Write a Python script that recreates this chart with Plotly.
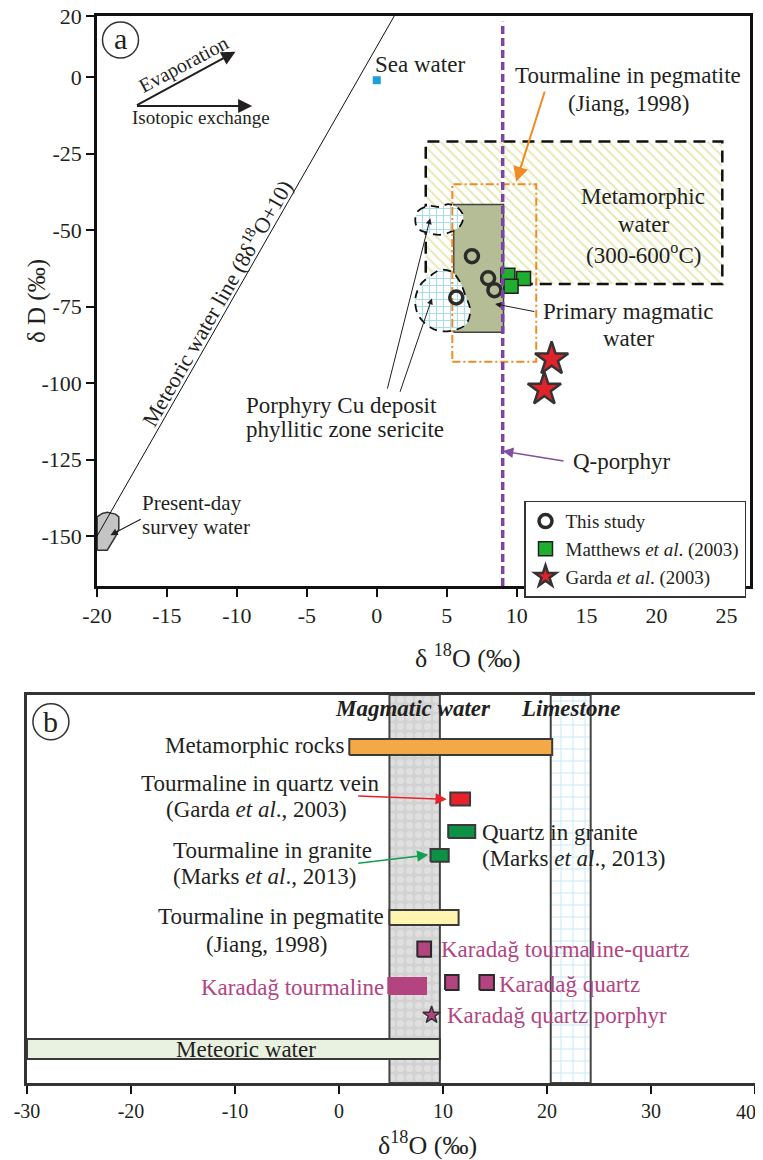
import plotly.graph_objects as go

FONT = "Liberation Serif, Times New Roman, serif"
INK = "#231f20"
# the page body adds an 8px margin; the figure is sized so the whole page is 763x1160
OX, OY = 8, 8
W, H = 755, 1152


def PX(px):
    return (px - OX) / W


def PY(py):
    return 1 - (py - OY) / H


# ---------------- Panel (a) data: d18O (permil) vs dD (permil) ----------------
this_study_d18o = [6.8, 7.96, 8.41, 5.68]
this_study_dD = [-58.5, -65.7, -69.6, -72.0]
matthews_d18o = [9.37, 10.49, 9.6]
matthews_dD = [-64.7, -65.8, -68.3]
garda_d18o = [12.5, 11.98]
garda_dD = [-92.1, -102.0]
sea_water_d18o = [0.0]
sea_water_dD = [-1.0]
mwl_d18o = [-20.5, 1.25]          # meteoric water line dD = 8 d18O + 10
mwl_dD = [-154.0, 20.0]
meta_d18o = [3.5, 24.7]           # metamorphic water field
meta_dD = [-67.6, -21.0]
peg_d18o = [5.4, 11.4]            # tourmaline in pegmatite (Jiang, 1998)
peg_dD = [-93.0, -35.0]
pmw_d18o = [5.5, 9.06]            # primary magmatic water
pmw_dD = [-83.4, -41.6]
qporphyr_d18o = 9.0
porph_up_d18o = [2.75, 2.96, 3.68, 4.54, 5.11, 5.82, 6.18, 5.96, 5.25, 4.54, 3.68, 2.96, 2.75]
porph_up_dD = [-46.7, -43.7, -42.1, -42.4, -41.5, -42.8, -45.4, -48.6, -50.6, -51.5, -50.9, -49.6, -46.7]
porph_lo_d18o = [2.75, 3.11, 3.82, 4.54, 5.39, 5.96, 6.32, 6.68, 6.39, 5.61, 4.54, 3.68, 2.96, 2.75]
porph_lo_dD = [-72.8, -67.9, -65.0, -63.0, -63.7, -67.0, -71.2, -76.1, -80.7, -82.6, -83.0, -81.3, -77.7, -72.8]
survey_d18o = [-19.99, -19.63, -19.27, -18.68, -18.44, -18.44, -18.68, -19.27, -19.99, -19.99]
survey_dD = [-143.7, -142.6, -142.2, -142.8, -143.7, -147.8, -150.2, -154.6, -154.6, -143.7]

a_xticks = [-20, -15, -10, -5, 0, 5, 10, 15, 20, 25]
a_yticks = [20, 0, -25, -50, -75, -100, -125, -150]

# ---------------- Panel (b) data: d18O ranges ----------------
b_names = ["Metamorphic rocks", "Tourmaline in quartz vein", "Quartz in granite",
           "Tourmaline in granite", "Tourmaline in pegmatite", "Karadağ tourmaline-quartz",
           "Karadağ tourmaline", "Karadağ quartz", "Karadağ quartz", "Meteoric water"]
b_start = [0.99, 10.7, 10.5, 8.8, 4.85, 7.53, 4.74, 10.2, 13.5, -30.0]
b_end = [20.5, 12.6, 13.1, 10.55, 11.5, 8.85, 8.37, 11.5, 14.9, 9.7]
b_row = [86.6, 73.2, 64.8, 58.65, 42.65, 34.5, 25.0, 25.9, 25.9, 8.75]
b_thick = [4.1, 3.4, 3.35, 3.3, 3.9, 3.9, 4.1, 3.9, 3.9, 5.15]
b_fill = ["#f4a947", "#e8222a", "#0c9145", "#0c9145", "#fff5b0", "#b3447f",
          "#b3447f", "#b3447f", "#b3447f", "#e9f1e0"]
b_edge = ["#3a3a3a", "#3a3a3a", "#3a3a3a", "#3a3a3a", "#3a3a3a", "#2a2a2a",
          "#b3447f", "#2a2a2a", "#2a2a2a", "#3a3a3a"]
porphyr_star_d18o = [8.9]
porphyr_star_row = [17.5]
magmatic_band = [4.85, 9.7]
limestone_band = [20.36, 24.2]
b_xticks = [-30, -20, -10, 0, 10, 20, 30, 40]


def rect(xs, ys):
    return [xs[0], xs[1], xs[1], xs[0], xs[0]], [ys[0], ys[0], ys[1], ys[1], ys[0]]


fig = go.Figure()

# ---- panel a layers ----
mx, my = rect(meta_d18o, meta_dD)
fig.add_trace(go.Scatter(x=mx, y=my, mode="lines", fill="toself", showlegend=False,
                         line=dict(color="#111", width=2.5, dash="12px,7px"),
                         fillpattern=dict(shape="\\", fgcolor="#c9cd5a", bgcolor="white",
                                          size=7, solidity=0.25),
                         hoverinfo="skip"))
px_, py_ = rect(pmw_d18o, pmw_dD)
fig.add_trace(go.Scatter(x=px_, y=py_, mode="lines", fill="toself", fillcolor="#b4bd95",
                         line=dict(color="#444", width=1.5), showlegend=False, hoverinfo="skip"))
for bx, by in [(porph_up_d18o, porph_up_dD), (porph_lo_d18o, porph_lo_dD)]:
    fig.add_trace(go.Scatter(x=bx, y=by, mode="lines", fill="toself", showlegend=False,
                             line=dict(color="#111", width=1.8, dash="8px,6px", shape="spline"),
                             fillpattern=dict(shape="+", fgcolor="#55bcd4", bgcolor="white",
                                              size=7, solidity=0.3),
                             hoverinfo="skip"))
gx, gy = rect(peg_d18o, peg_dD)
fig.add_trace(go.Scatter(x=gx, y=gy, mode="lines", showlegend=False,
                         line=dict(color="#f08a24", width=2, dash="8px,3px,2px,3px"),
                         hoverinfo="skip"))
fig.add_trace(go.Scatter(x=survey_d18o, y=survey_dD, mode="lines", fill="toself",
                         fillcolor="#c4c4c4", line=dict(color="#333", width=1.5),
                         showlegend=False, hoverinfo="skip"))
fig.add_trace(go.Scatter(x=mwl_d18o, y=mwl_dD, mode="lines", showlegend=False,
                         line=dict(color="#111", width=1), hoverinfo="skip"))
fig.add_shape(type="line", xref="x", yref="y domain", x0=qporphyr_d18o, x1=qporphyr_d18o,
              y0=0, y1=0.99, line=dict(color="#7d44a8", width=3.5, dash="8px,4px"))
fig.add_trace(go.Scatter(x=sea_water_d18o, y=sea_water_dD, mode="markers", showlegend=False,
                         marker=dict(symbol="square", size=8, color="#1e9ee0"), hoverinfo="skip"))

fig.add_trace(go.Scatter(x=this_study_d18o, y=this_study_dD, mode="markers", name="This study",
                         marker=dict(symbol="circle-open", size=13, color="#2b2b2b",
                                     line=dict(width=3.5, color="#2b2b2b"))))
fig.add_trace(go.Scatter(x=matthews_d18o, y=matthews_dD, mode="markers",
                         name="Matthews <i>et al</i>. (2003)",
                         marker=dict(symbol="square", size=14, color="#1fae30",
                                     line=dict(width=1.5, color="#222"))))
fig.add_trace(go.Scatter(x=garda_d18o, y=garda_dD, mode="markers",
                         name="Garda <i>et al</i>. (2003)",
                         marker=dict(symbol="star", size=25, color="#e2222a",
                                     line=dict(width=2.5, color="#333"))))

# ---- panel b layers ----
bx, by = rect(magmatic_band, [0, 100])
fig.add_trace(go.Scatter(x=bx, y=by, xaxis="x2", yaxis="y2", mode="lines", fill="toself",
                         line=dict(color="#444", width=2),
                         fillpattern=dict(shape=".", fgcolor="#ececec", bgcolor="#d2d2d2",
                                          size=9, solidity=0.5),
                         showlegend=False, hoverinfo="skip"))
lx, ly = rect(limestone_band, [0, 100])
fig.add_trace(go.Scatter(x=lx, y=ly, xaxis="x2", yaxis="y2", mode="lines", fill="toself",
                         line=dict(color="#444", width=2),
                         fillpattern=dict(shape="+", fgcolor="#8fd0f0", bgcolor="white",
                                          size=12, solidity=0.15),
                         showlegend=False, hoverinfo="skip"))
for name, s, e, r, t, fc, ec in zip(b_names, b_start, b_end, b_row, b_thick, b_fill, b_edge):
    rx, ry = rect([s, e], [r - t / 2, r + t / 2])
    fig.add_trace(go.Scatter(x=rx, y=ry, xaxis="x2", yaxis="y2", mode="lines", fill="toself",
                             fillcolor=fc, line=dict(color=ec, width=2), name=name,
                             showlegend=False, hoverinfo="name"))
fig.add_trace(go.Scatter(x=porphyr_star_d18o, y=porphyr_star_row, xaxis="x2", yaxis="y2",
                         mode="markers", showlegend=False,
                         marker=dict(symbol="star", size=13, color="#b3447f",
                                     line=dict(width=1.5, color="#333"))))

# ---------------- annotations ----------------
ann = []


def lab(text, x, y, ref="", size=23, xanchor="center", color=INK, angle=0):
    ann.append(dict(text=text, x=x, y=y, xref="x" + ref, yref="y" + ref, showarrow=False,
                    xanchor=xanchor, yanchor="middle", textangle=angle,
                    font=dict(family=FONT, size=size, color=color)))


def arrow(x, y, ax, ay, ref="", color=INK, width=1, size=1.2, head=2):
    ann.append(dict(text="", x=x, y=y, ax=ax, ay=ay, xref="x" + ref, yref="y" + ref,
                    axref="x" + ref, ayref="y" + ref, showarrow=True, arrowhead=head,
                    arrowsize=size, arrowwidth=width, arrowcolor=color))


def paper_lab(text, px, py, size=26, angle=0, xanchor="center"):
    ann.append(dict(text=text, x=PX(px), y=PY(py), xref="paper", yref="paper",
                    showarrow=False, textangle=angle, xanchor=xanchor, yanchor="middle",
                    font=dict(family=FONT, size=size, color=INK)))


# panel a labels
lab("a", -18.32, 12.6, size=30)
lab("Evaporation", -13.8, 4.0, size=20, angle=-28)
lab("Isotopic exchange", -12.6, -13.1, size=19)
arrow(-10.1, 8.33, -17.25, -9.42, width=2, size=1.4)
arrow(-8.91, -9.42, -17.25, -9.42, width=2, size=1.4)
lab("Sea water", -0.25, 4.3, xanchor="left")
lab("Tourmaline in pegmatite", 17.96, 0.39)
lab("(Jiang, 1998)", 17.96, -8.54)
arrow(9.96, -34.2, 12.04, -4.19, color="#f08a24", width=2, size=1.5)
lab("Metamorphic", 19.04, -39.07)
lab("water", 19.04, -48.3)
lab("(300-600<sup>o</sup>C)", 19.04, -57.6)
lab("Primary magmatic", 17.96, -76.7)
lab("water", 17.96, -85.4)
arrow(8.46, -74.1, 11.37, -76.7, width=1, size=1.2)
lab("Porphyry Cu deposit", -9.46, -107.2, xanchor="left")
lab("phyllitic zone sericite", -9.46, -115.3, xanchor="left")
arrow(3.82, -46.1, 0.73, -102.3, width=1, size=1.2)
arrow(3.94, -72.3, 1.63, -103.3, width=1, size=1.2)
lab("Present-day", -16.9, -139.3, size=21, xanchor="left")
lab("survey water", -16.9, -146.9, size=21, xanchor="left")
arrow(-19.04, -149.7, -16.77, -144.2, width=1.2, size=1.2)
lab("Q-porphyr", 13.87, -125.7, xanchor="left")
arrow(9.01, -122.2, 13.46, -125.5, color="#8050a0", width=1.5, size=1.4)
lab("Meteoric water line (8δ<sup>18</sup>O+10)", -11.54, -73.7, size=22, angle=-60.2)

# panel b labels
MAG = "#b3447f"
lab("b", -27.7, 93.1, ref="2", size=30)
lab("<b><i>Magmatic water</i></b>", 7.1, 96.4, ref="2")
lab("<b><i>Limestone</i></b>", 22.3, 96.4, ref="2")
lab("Metamorphic rocks", 0.8, 86.9, ref="2", xanchor="right")
lab("Tourmaline in quartz vein", -7.64, 77.2, ref="2")
lab("(Garda <i>et al</i>., 2003)", -7.9, 70.4, ref="2")
arrow(10.36, 73.1, 1.7, 74.0, ref="2", color="#e8222a", width=1.5, size=1.5)
lab("Tourmaline in granite", -6.4, 60.05, ref="2")
lab("(Marks <i>et al</i>., 2013)", -7.2, 53.2, ref="2")
arrow(8.59, 58.8, 1.7, 56.6, ref="2", color="#10a050", width=1.5, size=1.5)
lab("Quartz in granite", 13.56, 64.6, ref="2", xanchor="left")
lab("(Marks <i>et al</i>., 2013)", 13.56, 57.9, ref="2", xanchor="left")
lab("Tourmaline in pegmatite", 4.49, 42.9, ref="2", xanchor="right")
lab("(Jiang, 1998)", -7.0, 35.7, ref="2")
lab("Karadağ tourmaline-quartz", 9.57, 34.3, ref="2", xanchor="left", color=MAG)
lab("Karadağ tourmaline", 4.49, 24.7, ref="2", xanchor="right", color=MAG)
lab("Karadağ quartz", 15.2, 25.5, ref="2", xanchor="left", color=MAG)
lab("Karadağ quartz porphyr", 10.2, 17.5, ref="2", xanchor="left", color=MAG)
lab("Meteoric water", -8.9, 8.76, ref="2")

# axis titles
paper_lab("δ D (‰)", 37, 301, size=25, angle=-90)
paper_lab("δ <sup>18</sup>O (‰)", 468, 656)
paper_lab("δ<sup>18</sup>O (‰)", 428, 1143)
# last tick label of panel (b), right-aligned so it stays inside the page
paper_lab(str(b_xticks[-1]), 758, 1112, size=20, xanchor="right")

fig.add_shape(type="circle", xref="x", yref="y", xsizemode="pixel", ysizemode="pixel",
              xanchor=-18.32, yanchor=12.15, x0=-18, x1=18, y0=-18, y1=18,
              line=dict(color="#333", width=1.5))
fig.add_shape(type="circle", xref="x2", yref="y2", xsizemode="pixel", ysizemode="pixel",
              xanchor=-27.7, yanchor=93.1, x0=-18, x1=18, y0=-18, y1=18,
              line=dict(color="#333", width=1.5))

axis_common = dict(showgrid=False, zeroline=False, ticks="outside", ticklen=8, tickwidth=2,
                   tickcolor="#111", showline=True, mirror=True, automargin=False,
                   ticklabeloverflow="allow",
                   tickfont=dict(family=FONT, size=22, color=INK))

fig.update_layout(
    width=W, height=H, margin=dict(l=0, r=0, t=0, b=0, autoexpand=False),
    paper_bgcolor="white", plot_bgcolor="white",
    font=dict(family=FONT, color=INK),
    xaxis=dict(domain=[PX(97), PX(750)], range=[-20, 26.68], tickvals=a_xticks,
               ticktext=[str(v) for v in a_xticks], linecolor="#111", linewidth=2.5,
               anchor="y", **axis_common),
    yaxis=dict(domain=[PY(586), PY(16)], range=[-166.3, 20], tickvals=a_yticks,
               ticktext=[str(v) for v in a_yticks], linecolor="#111", linewidth=2.5,
               anchor="x", **axis_common),
    xaxis2=dict(domain=[PX(27), PX(755)], range=[-30, 40], tickvals=b_xticks,
                ticktext=[str(v) for v in b_xticks[:-1]] + [""], linecolor="#333", linewidth=3,
                anchor="y2", **{**axis_common, "tickfont": dict(family=FONT, size=20, color=INK)}),
    yaxis2=dict(domain=[PY(1083), PY(695)], range=[0, 100], showgrid=False,
                zeroline=False, showticklabels=False, ticks="", showline=True, mirror=True,
                linecolor="#333", linewidth=3, anchor="x2", automargin=False),
    legend=dict(x=PX(524), y=PY(500.7), xanchor="left", yanchor="top",
                bgcolor="white", bordercolor="#333", borderwidth=1.5,
                font=dict(family=FONT, size=19, color=INK), tracegroupgap=0,
                itemwidth=30),
    annotations=ann,
)

fig.write_html("out.html")
